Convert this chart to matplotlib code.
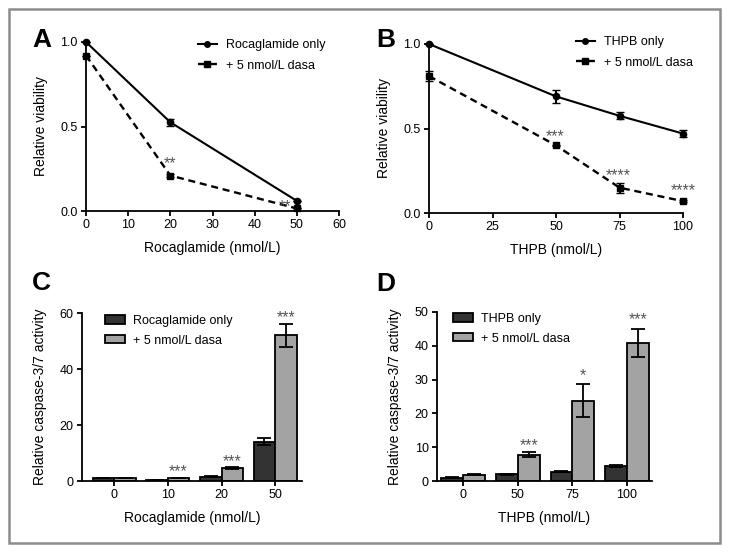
import matplotlib
matplotlib.use('Agg')
import matplotlib.pyplot as plt
from matplotlib.patches import Rectangle
from matplotlib.lines import Line2D
import numpy as np

plt.rcParams['font.family'] = ['Liberation Sans', 'DejaVu Sans']

#* Panel A - viabilidad rocaglamide
dose_a = [0, 20, 50]
roca_only = [1.0, 0.525, 0.06]
roca_only_err = [0.0, 0.02, 0.0]
roca_dasa = [0.92, 0.21, 0.015]
roca_dasa_err = [0.0, 0.01, 0.0]
stars_a = [(20, 0.31, '**'), (47.2, 0.055, '**')]

#* Panel B - viabilidad THPB
dose_b = [0, 50, 75, 100]
thpb_only = [1.0, 0.69, 0.575, 0.47]
thpb_only_err = [0.0, 0.04, 0.02, 0.02]
thpb_dasa = [0.81, 0.40, 0.15, 0.07]
thpb_dasa_err = [0.03, 0.005, 0.03, 0.005]
stars_b = [(49.6, 0.48, '***'), (74.4, 0.25, '****'), (100, 0.16, '****')]

#* Panel C - caspasa rocaglamide
cats_c = ['0', '10', '20', '50']
casp_roca = [1.0, 0.5, 1.5, 14.0]
casp_roca_err = [0.0, 0.0, 0.2, 1.3]
casp_roca_dasa = [1.0, 1.1, 4.7, 52.0]
casp_roca_dasa_err = [0.0, 0.1, 0.3, 4.0]
stars_c = ['', '***', '***', '***']
stars_c_y = [0, 5.0, 8.6, 60.0]

#* Panel D - caspasa THPB
cats_d = ['0', '50', '75', '100']
casp_thpb = [1.0, 2.0, 2.8, 4.5]
casp_thpb_err = [0.1, 0.1, 0.2, 0.3]
casp_thpb_dasa = [1.9, 7.8, 23.8, 40.8]
casp_thpb_dasa_err = [0.1, 0.8, 5.0, 4.2]
stars_d = ['', '***', '*', '***']
stars_d_y = [0, 12.1, 32.8, 49.1]

dark = '#333333'
light = '#a3a3a3'
star_col = '#555555'
tick_fs = 9
leg_fs = 9
lab_fs = 10
star_fs = 11.5
dash = (0, (3, 2))

fig = plt.figure(figsize=(7.29, 5.58), dpi=100)
fig.patches.append(Rectangle((9/729, 1-543/558), 711/729, 534/558, transform=fig.transFigure,
                             fill=False, edgecolor='#8c8c8c', linewidth=1.8))

def estilo(ax):
    for s in ['top', 'right']:
        ax.spines[s].set_visible(False)
    for s in ['left', 'bottom']:
        ax.spines[s].set_linewidth(1.3)
    ax.tick_params(direction='out', width=1.3, length=3.5, labelsize=tick_fs, pad=2.5)

def estrella(ax, x, y, t):
    # el asterisco queda alto en la linea, se baja con offset
    ax.annotate(t, (x, y), xytext=(0, -0.6*star_fs), textcoords='offset points',
                ha='center', va='baseline', fontsize=star_fs, color=star_col)

def leyenda_lineas(ax, lab1, xy):
    h1 = Line2D([], [], color='black', lw=1.5, marker='o', ms=4)
    h2 = Line2D([], [], color='black', lw=1.7, ls=dash, marker='s', ms=4.5)
    ax.legend([h1, h2], [lab1, '+ 5 nmol/L dasa'], loc='upper left', bbox_to_anchor=xy,
              bbox_transform=fig.transFigure, frameon=False, fontsize=leg_fs, borderpad=0,
              borderaxespad=0, handlelength=1.5, handletextpad=0.7, labelspacing=0.7)

#%%
#* A
axA = fig.add_axes([86/729, 1-211/558, 253/729, 169/558])
axA.errorbar(dose_a, roca_only, yerr=roca_only_err, color='black', lw=1.5, marker='o', ms=4.5,
             capsize=3, elinewidth=1.5, clip_on=False)
axA.errorbar(dose_a, roca_dasa, yerr=roca_dasa_err, color='black', lw=1.7, ls=dash, marker='s', ms=5,
             capsize=3, elinewidth=1.5, clip_on=False)
for x, y, t in stars_a:
    estrella(axA, x, y, t)
axA.set_xlim(0, 60)
axA.set_ylim(0, 1.0)
axA.set_xticks([0, 10, 20, 30, 40, 50, 60])
axA.set_yticks([0, 0.5, 1.0])
axA.set_yticklabels(['0.0', '0.5', '1.0'])
axA.set_xlabel('Rocaglamide (nmol/L)', fontsize=lab_fs, labelpad=7)
axA.set_ylabel('Relative viability', fontsize=lab_fs, labelpad=9)
estilo(axA)
leyenda_lineas(axA, 'Rocaglamide only', (198/729, 1-39/558))

#%%
#* B
axB = fig.add_axes([429/729, 1-213/558, 254/729, 169/558])
axB.errorbar(dose_b, thpb_only, yerr=thpb_only_err, color='black', lw=1.5, marker='o', ms=4.5,
             capsize=3, elinewidth=1.5, clip_on=False)
axB.errorbar(dose_b, thpb_dasa, yerr=thpb_dasa_err, color='black', lw=1.7, ls=dash, marker='s', ms=5,
             capsize=3, elinewidth=1.5, clip_on=False)
for x, y, t in stars_b:
    estrella(axB, x, y, t)
axB.set_xlim(0, 100)
axB.set_ylim(0, 1.0)
axB.set_xticks([0, 25, 50, 75, 100])
axB.set_yticks([0, 0.5, 1.0])
axB.set_yticklabels(['0.0', '0.5', '1.0'])
axB.set_xlabel('THPB (nmol/L)', fontsize=lab_fs, labelpad=7)
axB.set_ylabel('Relative viability', fontsize=lab_fs, labelpad=9)
estilo(axB)
leyenda_lineas(axB, 'THPB only', (576/729, 1-36/558))

#%%
#* C y D barras
def barras(ax, cats, v1, e1, v2, e2, stars, stars_y, lab1, xlab, ylim, yticks, xlim, leg_xy):
    pos = np.arange(len(cats))
    w = 0.4
    ax.bar(pos - w/2, v1, w, color=dark, edgecolor='black', lw=1.3, label=lab1)
    ax.bar(pos + w/2, v2, w, color=light, edgecolor='black', lw=1.3, label='+ 5 nmol/L dasa')
    ax.errorbar(pos - w/2, v1, yerr=e1, fmt='none', ecolor='black', elinewidth=1.3, capsize=5, capthick=1.3)
    ax.errorbar(pos + w/2, v2, yerr=e2, fmt='none', ecolor='black', elinewidth=1.3, capsize=5, capthick=1.3)
    for p, t, y in zip(pos, stars, stars_y):
        if t:
            estrella(ax, p + w/2, y, t)
    ax.set_xticks(pos)
    ax.set_xticklabels(cats)
    ax.set_xlim(*xlim)
    ax.set_ylim(*ylim)
    ax.set_yticks(yticks)
    ax.set_xlabel(xlab, fontsize=lab_fs, labelpad=7)
    ax.set_ylabel('Relative caspase-3/7 activity', fontsize=lab_fs, labelpad=9)
    estilo(ax)
    ax.legend(loc='upper left', bbox_to_anchor=leg_xy, bbox_transform=fig.transFigure,
              frameon=False, fontsize=leg_fs, borderpad=0, borderaxespad=0, handlelength=1.6,
              handleheight=0.65, handletextpad=0.65, labelspacing=0.6)

axC = fig.add_axes([82/729, 1-481/558, 220/729, 168/558])
barras(axC, cats_c, casp_roca, casp_roca_err, casp_roca_dasa, casp_roca_dasa_err, stars_c, stars_c_y,
       'Rocaglamide only', 'Rocaglamide (nmol/L)', (0, 60), [0, 20, 40, 60], (-0.6, 3.5),
       (105/729, 1-315/558))

axD = fig.add_axes([437/729, 1-481/558, 215/729, 169/558])
barras(axD, cats_d, casp_thpb, casp_thpb_err, casp_thpb_dasa, casp_thpb_dasa_err, stars_d, stars_d_y,
       'THPB only', 'THPB (nmol/L)', (0, 50), [0, 10, 20, 30, 40, 50], (-0.48, 3.46),
       (453/729, 1-313/558))

#* letras de panel
for x, y, t in [(32, 40, 'A'), (376, 40, 'B'), (32, 283, 'C'), (376, 284, 'D')]:
    fig.text(x/729, 1-y/558, t, fontsize=19, fontweight='bold', va='center', ha='left')

fig.savefig('out.png', dpi=100)
